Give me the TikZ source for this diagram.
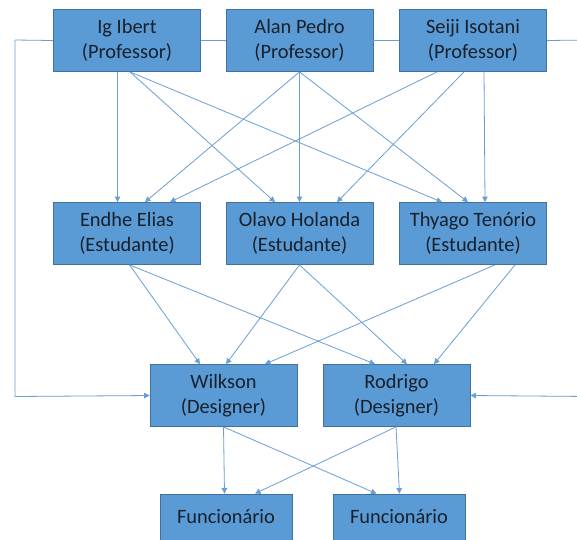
\documentclass[tikz,border=0pt]{standalone}
\usepackage{fontspec}
\setmainfont{Carlito}
\usetikzlibrary{arrows.meta}
\definecolor{boxfill}{HTML}{5B9BD5}
\definecolor{boxline}{HTML}{41719C}
\definecolor{linkcol}{HTML}{6A9FD4}
\definecolor{inktext}{HTML}{17202B}
\begin{document}
\begin{tikzpicture}[x=1pt,y=-1pt,
  person/.style={rectangle, draw=boxline, fill=boxfill, line width=0.8pt,
    minimum width=147pt, minimum height=62pt, inner sep=0pt, align=center,
    text=inktext, font=\fontsize{20.4}{25}\selectfont},
  worker/.style={person, minimum width=132pt, minimum height=46pt},
  link/.style={draw=linkcol, line width=0.8pt,
    -{Triangle[width=5.5pt,length=5.5pt]}},
  wire/.style={draw=linkcol, line width=0.8pt}]
\clip (0,0) rectangle (577,539);
\fill[white] (0,0) rectangle (577,539);

% professors
\node[person] (ig)    at (127,40.5) {Ig Ibert\\(Professor)};
\node[person] (alan)  at (299.5,40.5) {Alan Pedro\\(Professor)};
\node[person] (seiji) at (473,40.5) {Seiji Isotani\\(Professor)};

% students
\node[person] (endhe)  at (127,233.5) {Endhe Elias\\(Estudante)};
\node[person] (olavo)  at (299.5,233.5) {Olavo Holanda\\(Estudante)};
\node[person] (thyago) at (473,233.5) {Thyago Tenório\\(Estudante)};

% designers
\node[person] (wilkson) at (223.5,395.5) {Wilkson\\(Designer)};
\node[person] (rodrigo) at (396.5,395.5) {Rodrigo\\(Designer)};

% staff
\node[worker] (func1) at (226,517) {Funcionário};
\node[worker] (func2) at (399,517) {Funcionário};

% frame lines joining the professors and feeding the designers
\coordinate (lefttop) at (15,40);
\coordinate (leftbot) at (15,396.5);
\coordinate (righttop) at (590,40);
\coordinate (rightbot) at (590,396.5);
\draw[wire] (ig.west) -- (lefttop);
\draw[link] (lefttop) -- (leftbot) -- (wilkson.west);
\draw[wire] (ig.east) -- (alan.west);
\draw[wire] (alan.east) -- (seiji.west);
\draw[wire] (seiji.east) -- (righttop);
\draw[link] (righttop) -- (rightbot) -- (rodrigo.east);

% professors -> students
\draw[link] ([xshift=-9.5pt]ig.south) -- ([xshift=-9.5pt]endhe.north);
\draw[link] ([xshift=3pt]ig.south) -- ([xshift=-24.5pt]olavo.north);
\draw[link] ([xshift=3pt]ig.south) -- ([xshift=-31pt]thyago.north);
\draw[link] (alan.south) -- ([xshift=18pt]endhe.north);
\draw[link] (alan.south) -- (olavo.north);
\draw[link] (alan.south) -- ([xshift=-5pt]thyago.north);
\draw[link] ([xshift=-36pt]seiji.south) -- ([xshift=43pt]endhe.north);
\draw[link] ([xshift=-9pt]seiji.south) -- ([xshift=37.5pt]olavo.north);
\draw[link] ([xshift=11pt]seiji.south) -- ([xshift=12pt]thyago.north);

% students -> designers
\draw[link] ([xshift=2.5pt]endhe.south) -- ([xshift=-23.5pt]wilkson.north);
\draw[link] ([xshift=2.5pt]endhe.south) -- ([xshift=-21.5pt]rodrigo.north);
\draw[link] (olavo.south) -- ([xshift=2.5pt]wilkson.north);
\draw[link] (olavo.south) -- ([xshift=10.5pt]rodrigo.north);
\draw[link] ([xshift=22pt]thyago.south) -- ([xshift=41.5pt]wilkson.north);
\draw[link] ([xshift=42pt]thyago.south) -- ([xshift=37.5pt]rodrigo.north);

% designers -> staff
\draw[link] (wilkson.south) -- ([xshift=-1.5pt]func1.north);
\draw[link] (wilkson.south) -- ([xshift=-22.5pt]func2.north);
\draw[link] ([xshift=-0.5pt]rodrigo.south) -- ([xshift=29pt]func1.north);
\draw[link] ([xshift=-0.5pt]rodrigo.south) -- ([xshift=0.5pt]func2.north);
\end{tikzpicture}
\end{document}
